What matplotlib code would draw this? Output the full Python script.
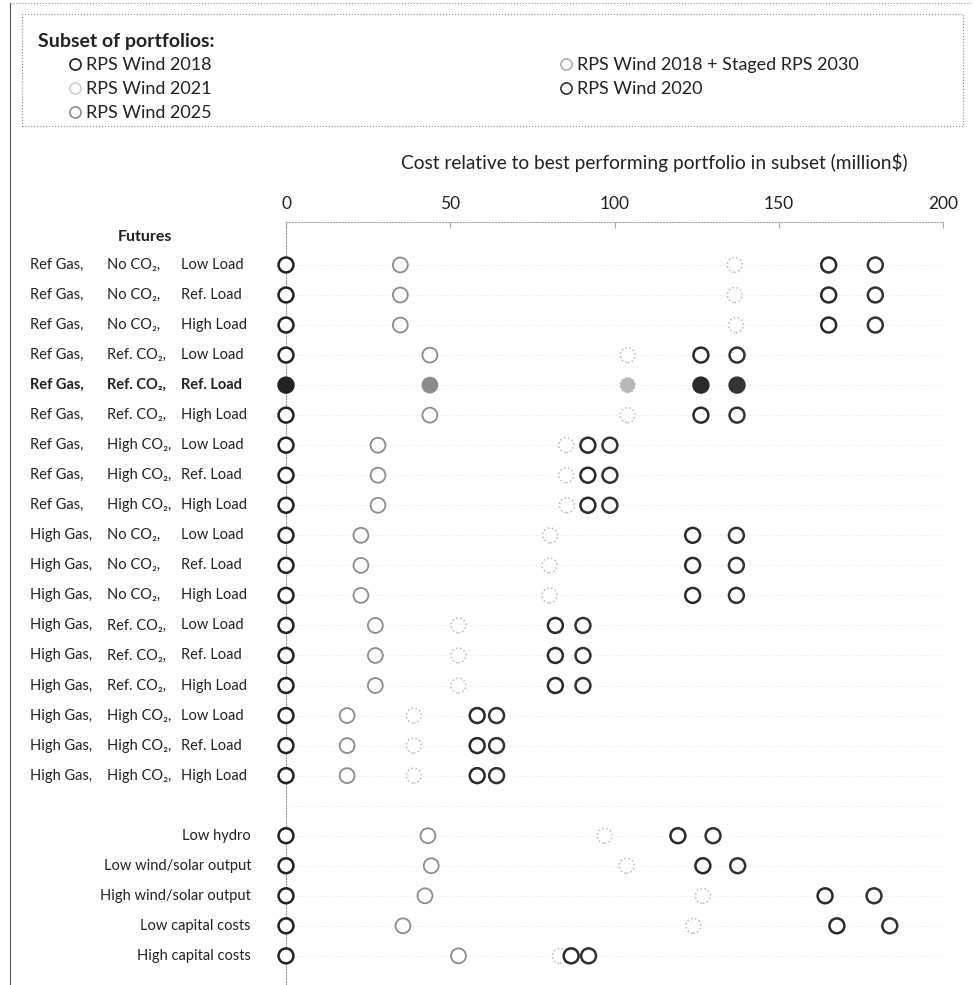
import matplotlib
matplotlib.use('Agg')
import matplotlib.pyplot as plt
import matplotlib.transforms as mtransforms
from matplotlib.lines import Line2D
from matplotlib.patches import Rectangle

plt.rcParams['font.family'] = ['Lato', 'DejaVu Sans']

# futures (scenario) labels, three parts per row
gas = ['Ref Gas,'] * 9 + ['High Gas,'] * 9
co2 = (['No CO₂,'] * 3 + ['Ref. CO₂,'] * 3 + ['High CO₂,'] * 3) * 2
load = ['Low Load', 'Ref. Load', 'High Load'] * 6
sensitivities = ['Low hydro', 'Low wind/solar output', 'High wind/solar output',
                 'Low capital costs', 'High capital costs']

portfolios = ['RPS Wind 2018', 'RPS Wind 2021', 'RPS Wind 2025',
              'RPS Wind 2018 + Staged RPS 2030', 'RPS Wind 2020']

# cost relative to best portfolio (million $), 18 futures then 5 sensitivities
rps2018 = [0] * 23
rps2025 = [34.8, 34.8, 34.8, 43.8, 43.8, 43.8, 28.0, 28.0, 28.0,
           22.8, 22.8, 22.8, 27.2, 27.2, 27.2, 18.6, 18.6, 18.6,
           43.2, 44.2, 42.3, 35.6, 52.5]
staged = [136.6, 136.6, 137.0, 104.0, 104.0, 104.0, 85.3, 85.3, 85.5,
          80.4, 80.2, 80.2, 52.5, 52.5, 52.5, 38.9, 38.9, 38.9,
          97.0, 103.7, 126.9, 124.0, 83.4]
rps2020 = [165.2, 165.2, 165.2, 126.3, 126.3, 126.3, 91.9, 91.9, 91.9,
           123.8, 123.8, 123.8, 82.0, 82.0, 82.0, 58.2, 58.2, 58.2,
           119.3, 126.9, 164.1, 167.7, 86.8]
rps2021 = [179.4, 179.4, 179.4, 137.3, 137.3, 137.3, 98.6, 98.6, 98.6,
           137.1, 137.1, 137.1, 90.4, 90.4, 90.4, 64.1, 64.1, 64.1,
           130.0, 137.5, 179.0, 183.8, 92.1]

highlight = 4  # Ref Gas, Ref. CO2, Ref. Load

fig = plt.figure(figsize=(9.73, 9.85), dpi=100)
W, H = 973.0, 985.0
ax = fig.add_axes([286 / W, 0, 657 / W, 1 - 222 / H])

rows = list(range(18)) + [19, 20, 21, 22, 23]

# faint dotted guide lines along each row
for r in range(24):
    ax.plot([0, 200], [r, r], color='#d8d8d8', lw=0.6, ls=(0, (1, 3)), zorder=1)

series = [
    (rps2018, '#222222', 1.8, '-'),
    (rps2025, '#8c8c8c', 1.3, '-'),
    (staged, '#b8b8b8', 1.1, ':'),
    (rps2020, '#2a2a2a', 1.8, '-'),
    (rps2021, '#333333', 1.8, '-'),
]
for vals, col, lw, ls in series:
    face = ['white'] * len(vals)
    face[highlight] = col
    ax.scatter(vals, rows, s=115, facecolors=face, edgecolors=col,
               linewidths=lw, linestyles=ls, zorder=3, clip_on=False)

ax.set_xlim(0, 200)
ax.set_ylim(23.97, -1.43)
ax.xaxis.tick_top()
ax.set_xticks([0, 50, 100, 150, 200])
ax.tick_params(axis='x', direction='in', length=4, color='#aaaaaa',
               labelsize=12.5, labelcolor='#222222', pad=7)
ax.set_yticks([])
ax.set_facecolor('none')
for s in ['right', 'bottom']:
    ax.spines[s].set_visible(False)
ax.spines['top'].set_color('#aaaaaa')
ax.spines['top'].set_linestyle(':')
ax.spines['left'].set_position(('data', 0))
ax.spines['left'].set_color('#999999')
ax.spines['left'].set_linestyle(':')

fig.text(654 / W, 1 - 163 / H,
         'Cost relative to best performing portfolio in subset (million$)',
         ha='center', va='center', fontsize=13.8, color='#222222')

# row labels
tr = mtransforms.blended_transform_factory(fig.transFigure, ax.transData)
ax.text(145 / W, -0.93, 'Futures', transform=tr, ha='center', va='center',
        fontsize=11.5, fontweight='bold', color='#222222')
for i in range(18):
    wt = 'bold' if i == highlight else 'normal'
    for x, txt in [(30, gas[i]), (107, co2[i]), (181, load[i])]:
        ax.text(x / W, i, txt, transform=tr, ha='left', va='center',
                fontsize=10.5, fontweight=wt, color='#222222')
for r, txt in zip(rows[18:], sensitivities):
    ax.text(251 / W, r, txt, transform=tr, ha='right', va='center',
            fontsize=10.5, color='#222222')

# legend box
fig.add_artist(Rectangle((22 / W, 1 - 126 / H), 941 / W, 112 / H,
                         transform=fig.transFigure, fill=False,
                         edgecolor='#888888', lw=0.8, ls=':'))
fig.text(38 / W, 1 - 42 / H, 'Subset of portfolios:', ha='left', va='center',
         fontsize=14, fontweight='bold', color='#222222')
legend_style = {'RPS Wind 2018': ('#222222', '-'),
                'RPS Wind 2021': ('#cfcfcf', ':'),
                'RPS Wind 2025': ('#8c8c8c', '-'),
                'RPS Wind 2018 + Staged RPS 2030': ('#b0b0b0', ':'),
                'RPS Wind 2020': ('#333333', '-')}
handles = [Line2D([], [], marker='o', ls='none', markersize=8,
                  markerfacecolor='white', markeredgecolor=legend_style[p][0],
                  markeredgewidth=1.2, label=p) for p in portfolios]
fig.legend(handles=handles, loc='upper left', bbox_to_anchor=(70 / W, 1 - 57 / H),
           ncol=2, frameon=False, fontsize=13, handlelength=0.6,
           handletextpad=0.3, columnspacing=19.3, labelspacing=0.45,
           borderpad=0, borderaxespad=0, labelcolor='#222222')

# page edges
fig.add_artist(Line2D([10 / W, 10 / W], [0, 1 - 3 / H], transform=fig.transFigure,
                      color='#555555', lw=0.8))
fig.add_artist(Line2D([10 / W, 1], [1 - 3 / H, 1 - 3 / H], transform=fig.transFigure,
                      color='#999999', lw=0.8, ls=':'))

plt.savefig('out.png', dpi=100, facecolor='white')
plt.close()
